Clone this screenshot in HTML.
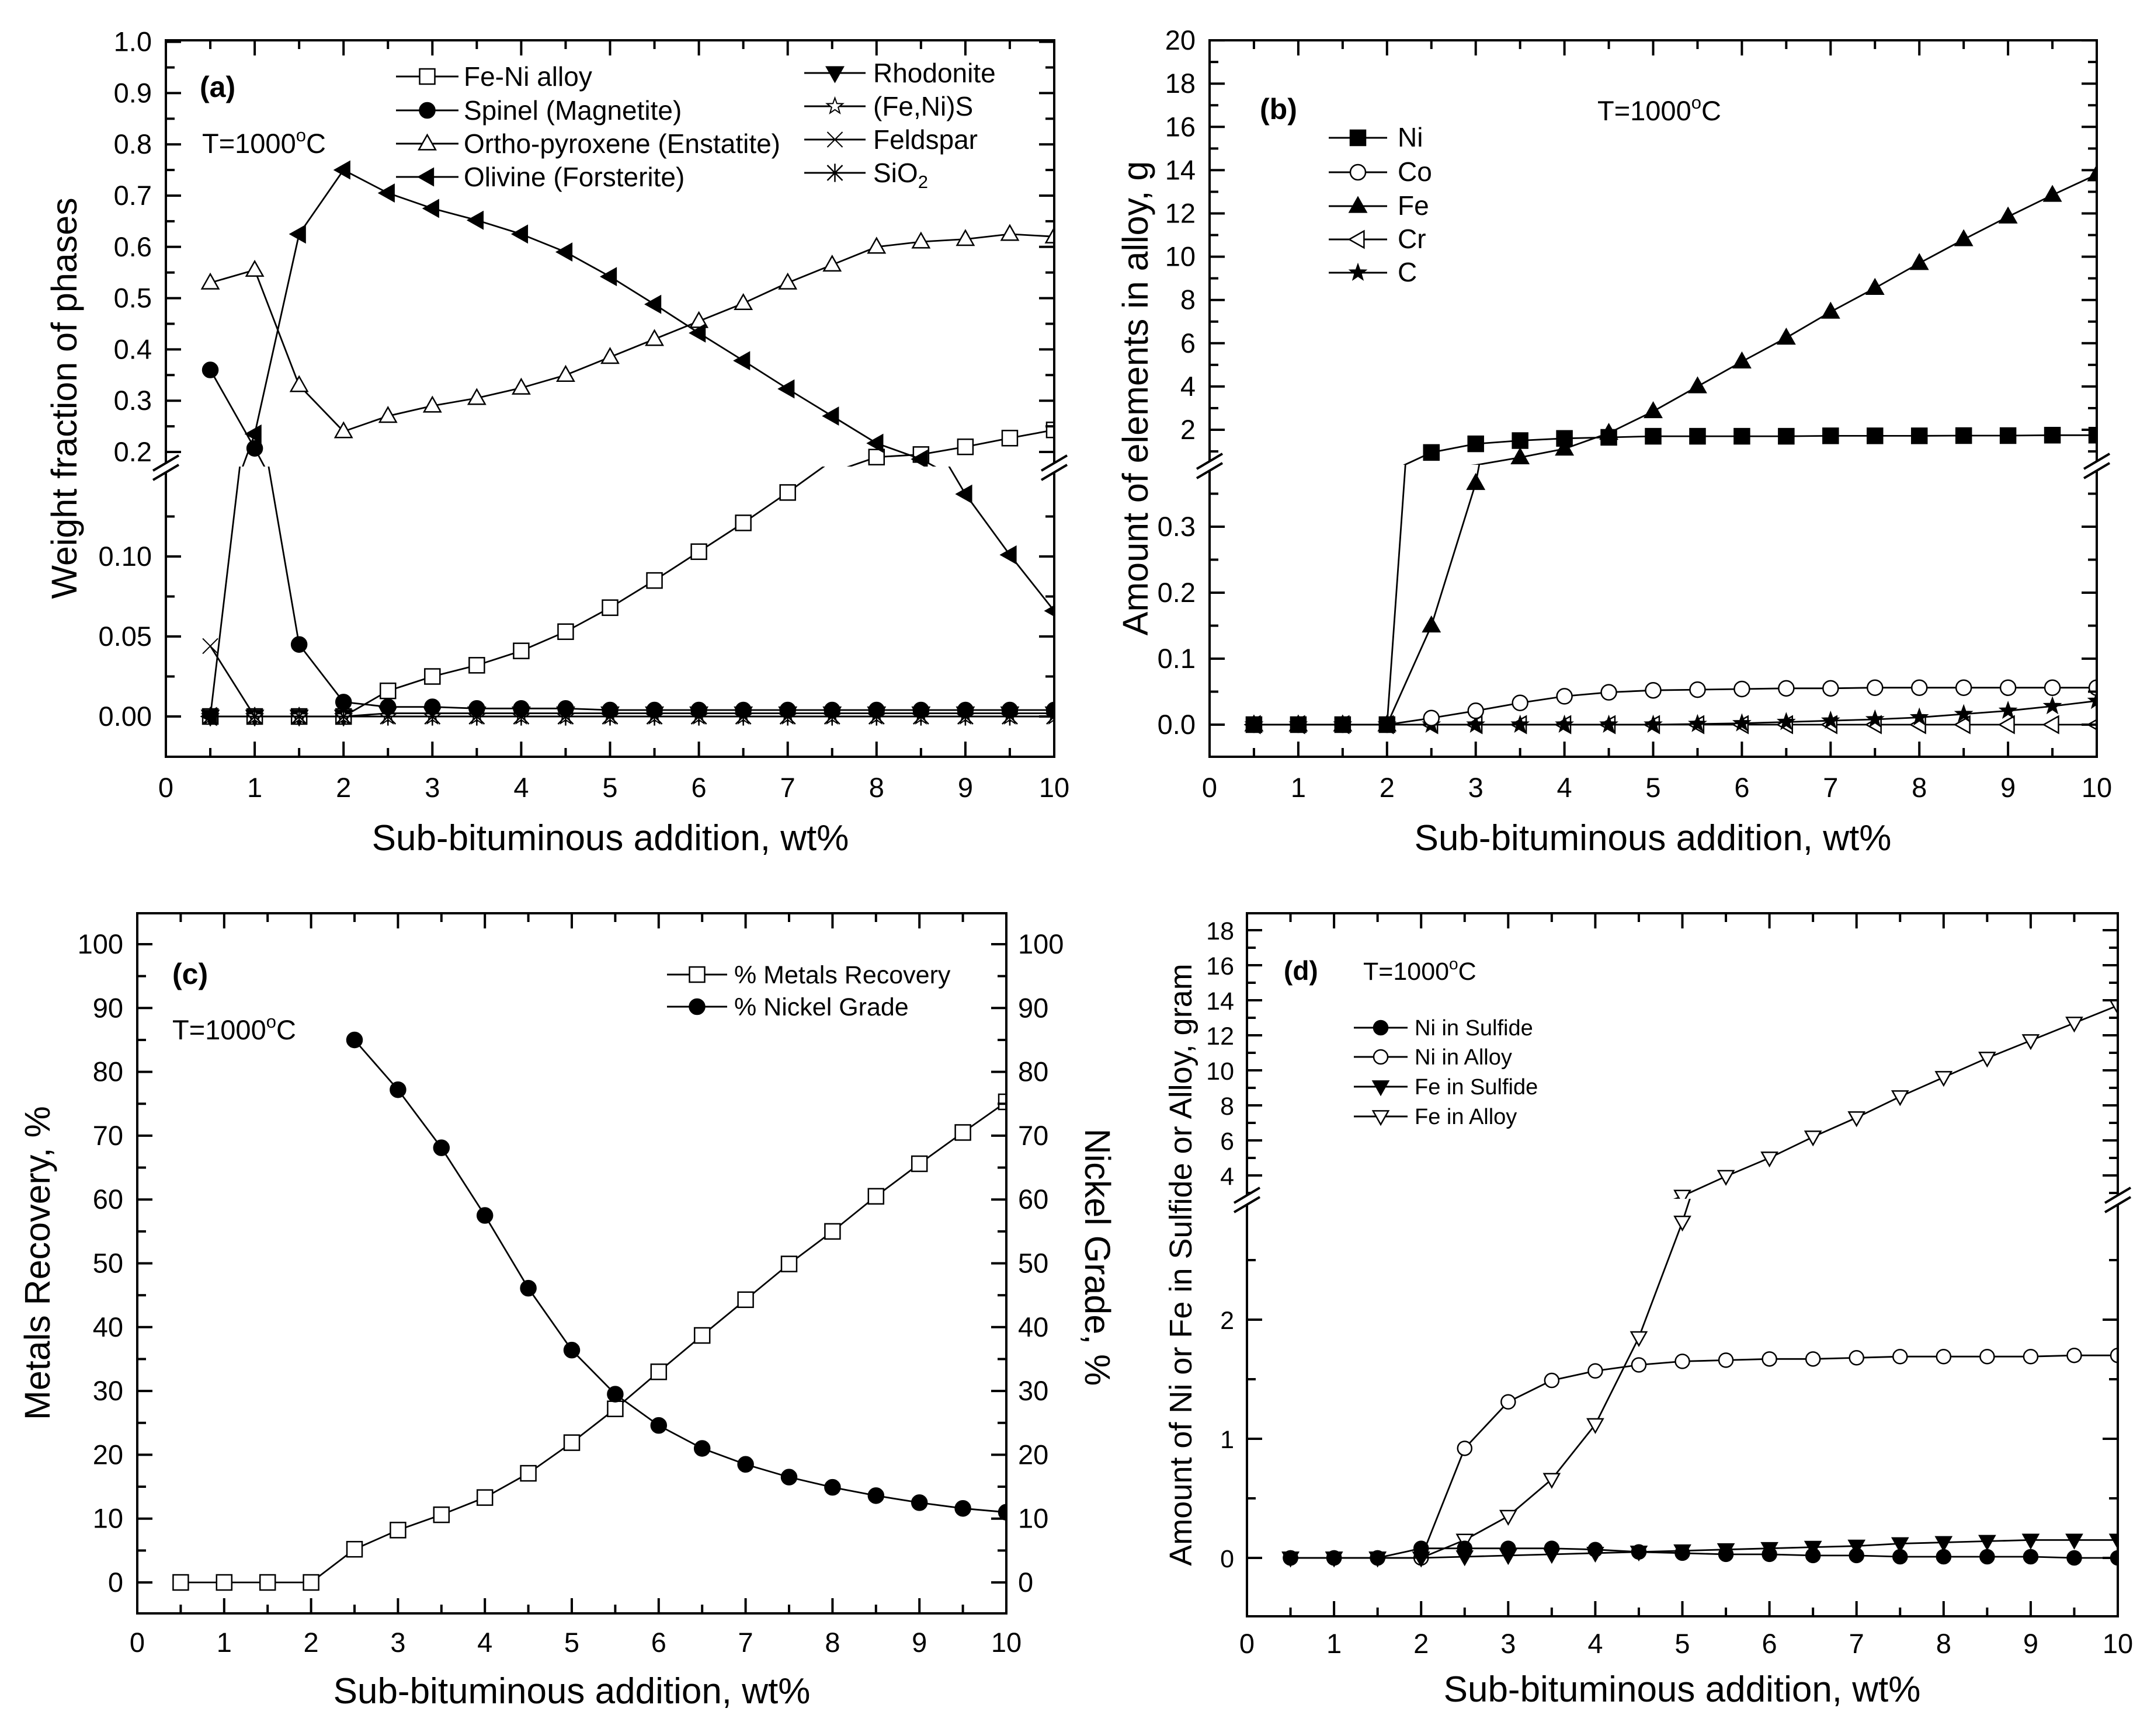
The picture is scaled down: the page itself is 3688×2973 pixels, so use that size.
<!DOCTYPE html>
<html><head><meta charset="utf-8"><title>Phase and alloy composition vs sub-bituminous addition</title>
<style>
html,body{margin:0;padding:0;background:#fff;}
svg{display:block;font-family:"Liberation Sans",Arial,sans-serif;}
</style></head>
<body>
<svg id="fig" xmlns="http://www.w3.org/2000/svg" width="3688" height="2973" viewBox="0 0 3688 2973">
<rect x="0" y="0" width="3688" height="2973" fill="#fff"/>
<g id="static-text" fill="#000">
  <!-- panel a -->
  <text x="342" y="166" font-size="50" font-weight="bold">(a)</text>
  <text x="346" y="262" font-size="47">T=1000<tspan font-size="31" dy="-20">o</tspan><tspan dy="20">C</tspan></text>
  <text transform="translate(131,682) rotate(-90)" text-anchor="middle" font-size="61">Weight fraction of phases</text>
  <text x="1045" y="1456" text-anchor="middle" font-size="62">Sub-bituminous addition, wt%</text>
  <text x="794" y="147" font-size="46">Fe-Ni alloy</text>
  <text x="794" y="205" font-size="46">Spinel (Magnetite)</text>
  <text x="794" y="262" font-size="46">Ortho-pyroxene (Enstatite)</text>
  <text x="794" y="319" font-size="46">Olivine (Forsterite)</text>
  <text x="1495" y="141" font-size="46">Rhodonite</text>
  <text x="1495" y="198" font-size="46">(Fe,Ni)S</text>
  <text x="1495" y="255" font-size="46">Feldspar</text>
  <text x="1495" y="312" font-size="46">SiO<tspan font-size="31" dy="10">2</tspan></text>
  <!-- panel b -->
  <text x="2157" y="204" font-size="50" font-weight="bold">(b)</text>
  <text x="2735" y="206" font-size="47">T=1000<tspan font-size="31" dy="-20">o</tspan><tspan dy="20">C</tspan></text>
  <text transform="translate(1965,682) rotate(-90)" text-anchor="middle" font-size="61">Amount of elements in alloy, g</text>
  <text x="2830" y="1456" text-anchor="middle" font-size="62">Sub-bituminous addition, wt%</text>
  <text x="2393" y="251" font-size="46">Ni</text>
  <text x="2393" y="310" font-size="46">Co</text>
  <text x="2393" y="368" font-size="46">Fe</text>
  <text x="2393" y="425" font-size="46">Cr</text>
  <text x="2393" y="482" font-size="46">C</text>
  <!-- panel c -->
  <text x="295" y="1685" font-size="50" font-weight="bold">(c)</text>
  <text x="295" y="1780" font-size="47">T=1000<tspan font-size="31" dy="-20">o</tspan><tspan dy="20">C</tspan></text>
  <text transform="translate(85,2163) rotate(-90)" text-anchor="middle" font-size="61">Metals Recovery, %</text>
  <text transform="translate(1858,2153) rotate(90)" text-anchor="middle" font-size="61">Nickel Grade, %</text>
  <text x="979" y="2917" text-anchor="middle" font-size="62">Sub-bituminous addition, wt%</text>
  <text x="1257" y="1684" font-size="43">% Metals Recovery</text>
  <text x="1257" y="1739" font-size="43">% Nickel Grade</text>
  <!-- panel d -->
  <text x="2198" y="1678" font-size="46" font-weight="bold">(d)</text>
  <text x="2334" y="1678" font-size="43">T=1000<tspan font-size="28" dy="-18">o</tspan><tspan dy="18">C</tspan></text>
  <text transform="translate(2040,2166) rotate(-90)" text-anchor="middle" font-size="54">Amount of Ni or Fe in Sulfide or Alloy, gram</text>
  <text x="2880" y="2914" text-anchor="middle" font-size="62">Sub-bituminous addition, wt%</text>
  <text x="2422" y="1773" font-size="38">Ni in Sulfide</text>
  <text x="2422" y="1823" font-size="38">Ni in Alloy</text>
  <text x="2422" y="1874" font-size="38">Fe in Sulfide</text>
  <text x="2422" y="1925" font-size="38">Fe in Alloy</text>
</g>
<g id="plots"></g>
</svg>
<script>
// ---------- shared x ----------
const xValues = [0.5,1,1.5,2,2.5,3,3.5,4,4.5,5,5.5,6,6.5,7,7.5,8,8.5,9,9.5,10];
const xTickLabels = ["0","1","2","3","4","5","6","7","8","9","10"];

// ---------- panel a ----------
const feNiAlloy   = [0,0,0,0,0.016,0.025,0.032,0.041,0.053,0.068,0.085,0.103,0.121,0.140,0.160,0.190,0.195,0.210,0.227,0.243];
const spinel      = [0.360,0.207,0.045,0.009,0.006,0.006,0.005,0.005,0.005,0.004,0.004,0.004,0.004,0.004,0.004,0.004,0.004,0.004,0.004,0.004];
const orthoPyrox  = [0.530,0.555,0.330,0.240,0.270,0.290,0.305,0.325,0.350,0.385,0.420,0.455,0.490,0.530,0.565,0.600,0.610,0.615,0.625,0.620];
const olivine     = [0,0.235,0.625,0.750,0.705,0.675,0.652,0.625,0.590,0.542,0.488,0.432,0.378,0.323,0.270,0.217,0.186,0.139,0.101,0.066];
const rhodonite   = [0,0,0,0,0.002,0.002,0.002,0.002,0.002,0.002,0.002,0.002,0.002,0.002,0.002,0.002,0.002,0.002,0.002,0.002];
const feNiS       = [0,0,0,0,0,0,0,0,0,0,0,0,0,0,0,0,0,0,0,0];
const feldspar    = [0.044,0,0,0,0,0,0,0,0,0,0,0,0,0,0,0,0,0,0,0];
const sio2        = [0,0,0,0,0,0,0,0,0,0,0,0,0,0,0,0,0,0,0,0];
const aUpperTicks = [0.2,0.3,0.4,0.5,0.6,0.7,0.8,0.9,1.0];
const aUpperLabels= ["0.2","0.3","0.4","0.5","0.6","0.7","0.8","0.9","1.0"];
const aLowerTicks = [0,0.05,0.10];
const aLowerLabels= ["0.00","0.05","0.10"];

// ---------- panel b ----------
const niAlloy = [0,0,0,0,0.95,1.35,1.50,1.60,1.65,1.70,1.70,1.70,1.70,1.72,1.72,1.72,1.73,1.73,1.75,1.75];
const coAlloy = [0,0,0,0,0.010,0.021,0.033,0.043,0.049,0.052,0.053,0.054,0.055,0.055,0.056,0.056,0.056,0.056,0.056,0.056];
const feAlloyB= [0,0,0,0,0.15,0.366,0.72,1.12,1.85,2.85,4.0,5.15,6.25,7.45,8.55,9.7,10.8,11.85,12.85,13.8];
const crAlloy = [0,0,0,0,0,0,0,0,0,0,0,0,0,0,0,0,0,0,0,0];
const cAlloy  = [0,0,0,0,0,0,0,0,0,0,0.001,0.002,0.004,0.006,0.008,0.011,0.016,0.021,0.028,0.036];
const bUpperTicks = [2,4,6,8,10,12,14,16,18,20];
const bUpperLabels= ["2","4","6","8","10","12","14","16","18","20"];
const bLowerTicks = [0,0.1,0.2,0.3];
const bLowerLabels= ["0.0","0.1","0.2","0.3"];

// ---------- panel c ----------
const metalsRecovery = [0,0,0,0,5.2,8.2,10.6,13.3,17.1,21.9,27.2,33.0,38.7,44.3,49.9,55.0,60.5,65.6,70.5,75.3];
const nickelGradeX   = [2.5,3,3.5,4,4.5,5,5.5,6,6.5,7,7.5,8,8.5,9,9.5,10];
const nickelGrade    = [85.0,77.2,68.1,57.5,46.1,36.4,29.5,24.6,21.0,18.5,16.5,14.9,13.6,12.5,11.6,11.0];
const cTicks  = [0,10,20,30,40,50,60,70,80,90,100];
const cLabels = ["0","10","20","30","40","50","60","70","80","90","100"];

// ---------- panel d ----------
const niSulfide = [0,0,0,0.08,0.08,0.08,0.08,0.07,0.05,0.04,0.03,0.03,0.02,0.02,0.01,0.01,0.01,0.01,0,0];
const niInAlloy = [0,0,0,0,0.92,1.31,1.49,1.57,1.62,1.65,1.66,1.67,1.67,1.68,1.69,1.69,1.69,1.69,1.70,1.70];
const feSulfide = [0,0,0,0,0.01,0.02,0.03,0.04,0.05,0.06,0.07,0.08,0.09,0.10,0.12,0.13,0.14,0.15,0.15,0.15];
const feInAlloy = [0,0,0,0,0.15,0.35,0.66,1.12,1.85,2.82,3.95,5.0,6.2,7.3,8.5,9.6,10.7,11.7,12.7,13.7];
const dUpperTicks = [4,6,8,10,12,14,16,18];
const dUpperLabels= ["4","6","8","10","12","14","16","18"];
const dLowerTicks = [0,1,2];
const dLowerLabels= ["0","1","2"];

// ---------- drawing helpers ----------
const NS = "http://www.w3.org/2000/svg";
const root = document.getElementById("plots");
function mk(tag, parent, a){
  const e = document.createElementNS(NS, tag);
  for (const k in a) e.setAttribute(k, a[k]);
  parent.appendChild(e);
  return e;
}
let clipId = 0;
function marker(parent, type, x, y, r){
  let e;
  const f = type.endsWith("-f") ? "#000" : "#fff";
  const base = type.split("-")[0];
  if (base === "sq") {
    e = mk("rect", parent, {x:x-r, y:y-r, width:2*r, height:2*r, fill:f, stroke:"#000", "stroke-width":2.5});
  } else if (base === "ci") {
    e = mk("circle", parent, {cx:x, cy:y, r:r, fill:f, stroke:"#000", "stroke-width":2.5});
  } else if (base === "tu") {
    e = mk("polygon", parent, {points:`${x},${y-r*1.15} ${x-r*1.1},${y+r*0.8} ${x+r*1.1},${y+r*0.8}`, fill:f, stroke:"#000", "stroke-width":2.5});
  } else if (base === "td") {
    e = mk("polygon", parent, {points:`${x},${y+r*1.15} ${x-r*1.1},${y-r*0.8} ${x+r*1.1},${y-r*0.8}`, fill:f, stroke:"#000", "stroke-width":2.5});
  } else if (base === "tl") {
    e = mk("polygon", parent, {points:`${x-r*1.15},${y} ${x+r*0.8},${y-r*1.1} ${x+r*0.8},${y+r*1.1}`, fill:f, stroke:"#000", "stroke-width":2.5});
  } else if (base === "star") {
    let p = [];
    for (let i=0;i<10;i++){ const ang = -Math.PI/2 + i*Math.PI/5; const rr = i%2===0 ? r*1.1 : r*0.45; p.push((x+rr*Math.cos(ang)).toFixed(1)+","+(y+rr*Math.sin(ang)).toFixed(1)); }
    e = mk("polygon", parent, {points:p.join(" "), fill:f, stroke:"#000", "stroke-width":2});
  } else if (base === "x") {
    e = mk("path", parent, {d:`M${x-r},${y-r}L${x+r},${y+r}M${x-r},${y+r}L${x+r},${y-r}`, fill:"none", stroke:"#000", "stroke-width":2});
  } else {
    e = mk("path", parent, {d:`M${x-r},${y-r}L${x+r},${y+r}M${x-r},${y+r}L${x+r},${y-r}M${x},${y-r*1.2}L${x},${y+r*1.2}`, fill:"none", stroke:"#000", "stroke-width":2.5});
  }
  return e;
}

function panel(cfg){
  const g = mk("g", root, {});
  
  
  const X = v => cfg.L + (v - 0) * (cfg.R - cfg.L) / 10;
  cfg.series.forEach(s => {
    const sg = mk("g", g, {});
    
    
    cfg.segs.forEach(seg => {
      const id = "clip" + (clipId++);
      const cp = mk("clipPath", sg, {id:id});
      mk("rect", cp, {x:cfg.L, y:seg.c0, width:cfg.R-cfg.L, height:seg.c1-seg.c0});
      const cg = mk("g", sg, {"clip-path":`url(#${id})`});
      const xs = s.x || xValues;
      const pts = xs.map((xv,i) => X(xv).toFixed(1)+","+seg.Y(s.y[i]).toFixed(1)).join(" ");
      const line = mk("polyline", cg, {points:pts, fill:"none", stroke:"#000", "stroke-width":2.8});
      
      
      xs.forEach((xv,i) => {
        const yy = seg.Y(s.y[i]);
        if (yy < seg.c0 || yy > seg.c1) return;
        const m = marker(cg, s.m, X(xv), yy, s.r || 13);
        
        
      });
    });
  });
  const fr = mk("rect", g, {x:cfg.L, y:cfg.T, width:cfg.R-cfg.L, height:cfg.B-cfg.T, fill:"none", stroke:"#000", "stroke-width":4});
  
  
  for (let i=0;i<=20;i++){
    const v = i*0.5, x = X(v), len = i%2===0 ? 26 : 15;
    mk("line", g, {x1:x, y1:cfg.B, x2:x, y2:cfg.B-len, stroke:"#000", "stroke-width":4});
    mk("line", g, {x1:x, y1:cfg.T, x2:x, y2:cfg.T+len, stroke:"#000", "stroke-width":4});
  }
  xTickLabels.forEach((lab,i) => {
    const t = mk("text", g, {x:X(i), y:cfg.xLabY, "text-anchor":"middle", "font-size":47});
    t.textContent = lab;
    
    
  });
  cfg.segs.forEach(seg => {
    seg.ticks.forEach((v,i) => {
      const y = seg.Y(v);
      mk("line", g, {x1:cfg.L, y1:y, x2:cfg.L+26, y2:y, stroke:"#000", "stroke-width":4});
      mk("line", g, {x1:cfg.R, y1:y, x2:cfg.R-26, y2:y, stroke:"#000", "stroke-width":4});
      const t = mk("text", g, {x:cfg.L-cfg.yLabGap, y:y+16, "text-anchor":"end", "font-size":cfg.yFont||47});
      t.textContent = seg.labels[i];
      
      
      if (cfg.rightLabels) {
        const t2 = mk("text", g, {x:cfg.R+20, y:y+16, "text-anchor":"start", "font-size":47});
        t2.textContent = seg.labels[i];
        
        
      }
    });
    const step = seg.ticks.length > 1 ? seg.ticks[1]-seg.ticks[0] : 1;
    for (let v = seg.ticks[0] - step*3.5; v <= seg.ticks[seg.ticks.length-1] + step*3; v += step){
      const y = seg.Y(v);
      if (y <= seg.c0+2 || y >= seg.c1-2) continue;
      mk("line", g, {x1:cfg.L, y1:y, x2:cfg.L+15, y2:y, stroke:"#000", "stroke-width":4});
      mk("line", g, {x1:cfg.R, y1:y, x2:cfg.R-15, y2:y, stroke:"#000", "stroke-width":4});
    }
  });
  if (cfg.brk) {
    [cfg.L, cfg.R].forEach(ax => {
      const by = cfg.brk;
      const bk = mk("g", g, {});
      
      
      mk("polygon", bk, {points:`${ax-20},${by+6} ${ax+20},${by-18} ${ax+20},${by-2} ${ax-20},${by+22}`, fill:"#fff"});
      mk("line", bk, {x1:ax-22, y1:by+7, x2:ax+22, y2:by-19, stroke:"#000", "stroke-width":4});
      mk("line", bk, {x1:ax-22, y1:by+23, x2:ax+22, y2:by-3, stroke:"#000", "stroke-width":4});
    });
  }
  cfg.legend.forEach(le => {
    const lg = mk("g", g, {});
    
    
    mk("line", lg, {x1:le.x0, y1:le.y, x2:le.x1, y2:le.y, stroke:"#000", "stroke-width":3});
    marker(lg, le.m, (le.x0+le.x1)/2, le.y, le.r || 13);
  });
}

panel({
  name:"panel-a", L:284, R:1805, T:69, B:1296, xLabY:1365, yLabGap:24, brk:799,
  segs:[
    {c0:69, c1:799, Y:v => 774 - (v-0.2)*878, ticks:aUpperTicks, labels:aUpperLabels},
    {c0:799, c1:1296, Y:v => 1227 - v*2740, ticks:aLowerTicks, labels:aLowerLabels}
  ],
  series:[
    {name:"fe-ni-alloy-series", y:feNiAlloy, m:"sq-o"},
    {name:"rhodonite-series", y:rhodonite, m:"td-f"},
    {name:"fe-ni-s-series", y:feNiS, m:"star-o"},
    {name:"feldspar-series", y:feldspar, m:"x"},
    {name:"sio2-series", y:sio2, m:"ast"},
    {name:"spinel-series", y:spinel, m:"ci-f"},
    {name:"ortho-pyroxene-series", y:orthoPyrox, m:"tu-o"},
    {name:"olivine-series", y:olivine, m:"tl-f"}
  ],
  legend:[
    {x0:678,x1:785,y:131,m:"sq-o"},{x0:678,x1:785,y:189,m:"ci-f"},{x0:678,x1:785,y:246,m:"tu-o"},{x0:678,x1:785,y:303,m:"tl-f"},
    {x0:1377,x1:1482,y:125,m:"td-f"},{x0:1377,x1:1482,y:182,m:"star-o"},{x0:1377,x1:1482,y:239,m:"x"},{x0:1377,x1:1482,y:296,m:"ast"}
  ]
});

panel({
  name:"panel-b", L:2071, R:3590, T:69, B:1296, xLabY:1365, yLabGap:24, brk:796,
  segs:[
    {c0:69, c1:796, Y:v => 736 - (v-2)*37.05, ticks:bUpperTicks, labels:bUpperLabels},
    {c0:796, c1:1296, Y:v => 1241 - v*1130, ticks:bLowerTicks, labels:bLowerLabels}
  ],
  series:[
    {name:"cr-series", y:crAlloy, m:"tl-o"},
    {name:"c-series", y:cAlloy, m:"star-f"},
    {name:"co-series", y:coAlloy, m:"ci-o"},
    {name:"fe-series", y:feAlloyB, m:"tu-f"},
    {name:"ni-series", y:niAlloy, m:"sq-f"}
  ],
  legend:[
    {x0:2275,x1:2375,y:236,m:"sq-f"},{x0:2275,x1:2375,y:295,m:"ci-o"},{x0:2275,x1:2375,y:353,m:"tu-f"},
    {x0:2275,x1:2375,y:410,m:"tl-o"},{x0:2275,x1:2375,y:467,m:"star-f"}
  ]
});

panel({
  name:"panel-c", L:235, R:1723, T:1564, B:2763, xLabY:2829, yLabGap:24, rightLabels:true,
  segs:[
    {c0:1564, c1:2763, Y:v => 2710 - v*10.93, ticks:cTicks, labels:cLabels}
  ],
  series:[
    {name:"metals-recovery-series", y:metalsRecovery, m:"sq-o"},
    {name:"nickel-grade-series", x:nickelGradeX, y:nickelGrade, m:"ci-f"}
  ],
  legend:[
    {x0:1142,x1:1245,y:1669,m:"sq-o"},{x0:1142,x1:1245,y:1724,m:"ci-f"}
  ]
});

panel({
  name:"panel-d", L:2135, R:3626, T:1564, B:2768, xLabY:2831, yLabGap:22, yFont:43, brk:2053,
  segs:[
    {c0:1564, c1:2053, Y:v => 2013 - (v-4)*30.0, ticks:dUpperTicks, labels:dUpperLabels},
    {c0:2053, c1:2768, Y:v => 2668 - v*204, ticks:dLowerTicks, labels:dLowerLabels}
  ],
  series:[
    {name:"ni-in-alloy-series", y:niInAlloy, m:"ci-o", r:12},
    {name:"fe-in-alloy-series", y:feInAlloy, m:"td-o", r:12},
    {name:"fe-in-sulfide-series", y:feSulfide, m:"td-f", r:12},
    {name:"ni-in-sulfide-series", y:niSulfide, m:"ci-f", r:12}
  ],
  legend:[
    {x0:2318,x1:2410,y:1760,m:"ci-f",r:12},{x0:2318,x1:2410,y:1810,m:"ci-o",r:12},
    {x0:2318,x1:2410,y:1861,m:"td-f",r:12},{x0:2318,x1:2410,y:1912,m:"td-o",r:12}
  ]
});
</script>
</body></html>
